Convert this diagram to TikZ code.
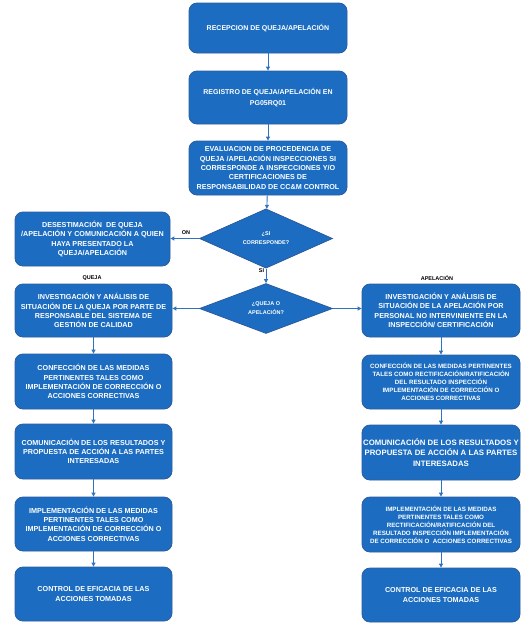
\documentclass[tikz,border=0pt]{standalone}
\usepackage{fontspec}
\setmainfont{Liberation Sans}
\usetikzlibrary{shapes.geometric,arrows.meta}
\definecolor{boxblue}{HTML}{1C6DC1}
\definecolor{boxedge}{HTML}{2C5C9E}
\definecolor{arrowblue}{HTML}{2E72C0}
\tikzset{
  box/.style={rectangle, rounded corners=8pt, draw=boxedge, line width=0.8pt, fill=boxblue,
    text=white, align=center, inner sep=1pt, minimum width=157pt, minimum height=54pt,
    font=\fontsize{7.2}{9.3}\selectfont\bfseries},
  dec/.style={diamond, draw=boxedge, line width=0.8pt, fill=boxblue, text=white, align=center,
    inner sep=0pt, minimum width=133pt, minimum height=52pt,
    font=\fontsize{5.5}{9}\selectfont\bfseries},
  lab/.style={font=\fontsize{5.5}{6}\selectfont\bfseries, text=black, inner sep=0pt},
  arr/.style={draw=arrowblue, line width=0.9pt, -{Triangle[length=4pt,width=4pt]}},
  small/.style={font=\fontsize{6.2}{8.1}\selectfont\bfseries},
}
\begin{document}
\begin{tikzpicture}[x=1pt,y=-1pt]
\useasboundingbox (0,0) rectangle (527,630);
% top column
\node[box, minimum width=158pt, minimum height=50pt, font=\fontsize{7.0}{9.3}\selectfont\bfseries] (r1) at (268,28) {RECEPCION DE QUEJA/APELACIÓN};
\node[box, minimum width=158pt, minimum height=53pt, font=\fontsize{7.0}{11.5}\selectfont\bfseries] (r2) at (268,97.5) {REGISTRO DE QUEJA/APELACIÓN EN\\PG05RQ01};
\node[box, minimum width=158pt, minimum height=54pt] (r3) at (268,168) {EVALUACION DE PROCEDENCIA DE\\QUEJA /APELACIÓN INSPECCIONES SI\\CORRESPONDE A INSPECCIONES Y/O\\CERTIFICACIONES DE\\RESPONSABILIDAD DE CC\&M CONTROL};
\node[dec] (d1) at (266,238.5) {¿SI\\CORRESPONDE?};
\node[box, minimum width=155pt] (no) at (92.5,239) {DESESTIMACIÓN\ \ DE QUEJA\\/APELACIÓN Y COMUNICACIÓN A QUIEN\\HAYA PRESENTADO LA\\QUEJA/APELACIÓN};
\node[dec, minimum height=50pt] (d2) at (266,308.5) {¿QUEJA O\\APELACIÓN?};
% left column
\node[box, minimum height=53pt] (l1) at (93.5,310.5) {INVESTIGACIÓN Y ANÁLISIS DE\\SITUACIÓN DE LA QUEJA POR PARTE DE\\RESPONSABLE DEL SISTEMA DE\\GESTIÓN DE CALIDAD};
\node[box, minimum height=55pt] (l2) at (93.5,381.5) {CONFECCIÓN DE LAS MEDIDAS\\PERTINENTES TALES COMO\\IMPLEMENTACIÓN DE CORRECCIÓN O\\ACCIONES CORRECTIVAS};
\node[box, minimum height=55pt] (l3) at (93.5,451.5) {COMUNICACIÓN DE LOS RESULTADOS Y\\PROPUESTA DE ACCIÓN A LAS PARTES\\INTERESADAS};
\node[box, minimum height=54pt] (l4) at (93.5,524) {IMPLEMENTACIÓN DE LAS MEDIDAS\\PERTINENTES TALES COMO\\IMPLEMENTACIÓN DE CORRECCIÓN O\\ACCIONES CORRECTIVAS};
\node[box, minimum height=54pt] (l5) at (93.5,594) {CONTROL DE EFICACIA DE LAS\\ACCIONES TOMADAS};
% right column
\node[box, minimum width=158pt, minimum height=53pt] (p1) at (441,310.5) {INVESTIGACIÓN Y ANÁLISIS DE\\SITUACIÓN DE LA APELACIÓN POR\\PERSONAL NO INTERVINIENTE EN LA\\INSPECCIÓN/ CERTIFICACIÓN};
\node[box, small, minimum width=158pt, minimum height=54pt] (p2) at (441,382) {CONFECCIÓN DE LAS MEDIDAS PERTINENTES\\TALES COMO RECTIFICACIÓN/RATIFICACIÓN\\DEL RESULTADO INSPECCIÓN\\IMPLEMENTACIÓN DE CORRECCIÓN O\\ACCIONES CORRECTIVAS};
\node[box, minimum width=158pt, minimum height=55pt, font=\fontsize{7.8}{10.5}\selectfont\bfseries] (p3) at (441,452.5) {COMUNICACIÓN DE LOS RESULTADOS Y\\PROPUESTA DE ACCIÓN A LAS PARTES\\INTERESADAS};
\node[box, small, minimum width=158pt, minimum height=55pt] (p4) at (441,524.5) {IMPLEMENTACIÓN DE LAS MEDIDAS\\PERTINENTES TALES COMO\\RECTIFICACIÓN/RATIFICACIÓN DEL\\RESULTADO INSPECCIÓN IMPLEMENTACIÓN\\DE CORRECCIÓN O\ \ ACCIONES CORRECTIVAS};
\node[box, minimum width=158pt, minimum height=54pt] (p5) at (441,595) {CONTROL DE EFICACIA DE LAS\\ACCIONES TOMADAS};
% labels
\node[lab] (lon) at (186,233) {ON};
\node[lab] (lsi) at (261.5,271) {SI};
\node[lab] (lq) at (92,278) {QUEJA};
\node[lab] (la) at (437,278) {APELACIÓN};
% arrows
\draw[arr] (r1) -- (r2);
\draw[arr] (r2) -- (r3);
\draw[arr] (r3) -- (d1);
\draw[arr] (d1.west) -- (no.east |- d1.west);
\draw[arr] (d1) -- (d2);
\draw[arr] (d2.west) -- (l1.east |- d2.west);
\draw[arr] (d2.east) -- (p1.west |- d2.east);
\draw[arr] (l1) -- (l2);
\draw[arr] (l2) -- (l3);
\draw[arr] (l3) -- (l4);
\draw[arr] (l4) -- (l5);
\draw[arr] (p1) -- (p2);
\draw[arr] (p2) -- (p3);
\draw[arr] (p3) -- (p4);
\draw[arr] (p4) -- (p5);
\end{tikzpicture}
\end{document}
